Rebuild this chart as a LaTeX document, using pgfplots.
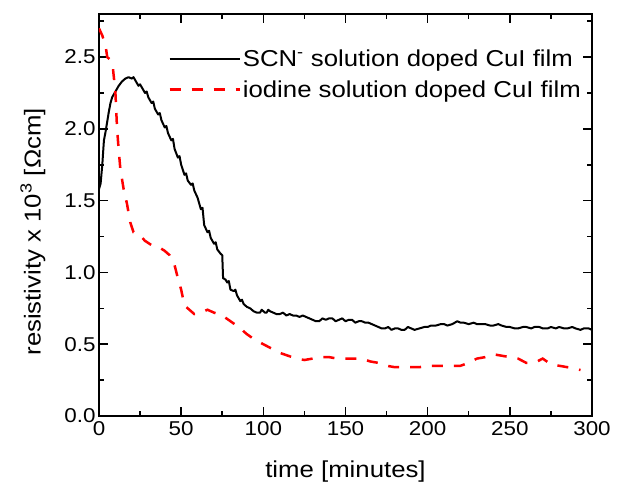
\documentclass[border=0pt]{standalone}
\usepackage{pgfplots}
\pgfplotsset{compat=1.18}
\usepackage{fontspec}
\setmainfont{Liberation Sans}[FakeStretch=1.12]
\pgfplotstableread{
x y
0 1.58
1 1.62
2 1.75
3 1.92
4 1.98
5 2.05
6 2.12
7 2.18
8 2.22
10 2.26
12 2.30
14 2.33
16 2.35
18 2.36
20 2.35
21 2.36
22 2.34
24 2.30
25 2.31
26 2.29
28 2.25
29 2.26
30 2.22
32 2.18
33 2.19
34 2.14
36 2.10
37 2.11
38 2.06
40 2.01
41 2.02
42 1.97
44 1.92
45 1.93
46 1.86
48 1.80
49 1.81
50 1.75
52 1.68
53 1.69
54 1.64
56 1.61
57 1.62
58 1.57
60 1.52
62 1.44
63 1.45
64 1.33
66 1.28
67 1.29
68 1.24
70 1.20
71 1.21
72 1.16
74 1.13
75 1.12
75.5 0.96
77 0.95
78 0.93
79 0.94
80 0.88
82 0.87
83 0.88
84 0.84
86 0.80
87 0.81
88 0.78
90 0.76
92 0.75
93 0.74
94 0.73
96 0.72
98 0.72
99 0.74
100 0.73
101 0.72
102 0.72
103 0.74
104 0.73
106 0.72
108 0.71
110 0.71
112 0.72
114 0.70
116 0.71
118 0.70
120 0.70
122 0.69
124 0.70
126 0.69
128 0.68
130 0.67
132 0.66
134 0.66
136 0.68
138 0.67
140 0.68
142 0.68
144 0.66
146 0.67
148 0.68
150 0.66
152 0.67
154 0.67
156 0.65
158 0.66
160 0.66
162 0.65
164 0.65
166 0.64
168 0.63
170 0.62
172 0.61
174 0.61
176 0.62
178 0.60
180 0.61
182 0.61
184 0.60
186 0.60
188 0.62
190 0.61
192 0.60
195 0.61
198 0.62
200 0.62
202 0.63
205 0.63
208 0.64
210 0.64
212 0.63
215 0.64
218 0.66
220 0.65
222 0.65
225 0.64
228 0.65
230 0.64
233 0.64
235 0.64
238 0.63
240 0.63
243 0.64
245 0.63
248 0.62
250 0.62
253 0.61
255 0.61
258 0.62
260 0.62
263 0.61
265 0.62
268 0.62
270 0.61
273 0.61
275 0.62
278 0.61
280 0.62
283 0.61
285 0.61
288 0.62
290 0.61
293 0.60
295 0.61
298 0.61
300 0.60
}\scn
\pgfplotstableread{
x y
0 2.70
2 2.65
4 2.58
5 2.50
7 2.48
8.5 2.42
10 2.25
11 2.00
12 1.85
13 1.72
15 1.58
17 1.48
19 1.35
21 1.28
24 1.27
28 1.22
32 1.19
36 1.18
40 1.15
43 1.12
46 1.05
48 0.96
50 0.88
52 0.77
55 0.74
58 0.71
62 0.72
66 0.74
70 0.72
75 0.70
80 0.66
85 0.62
90 0.57
95 0.53
100 0.50
105 0.47
110 0.44
115 0.42
120 0.40
125 0.39
130 0.40
135 0.41
140 0.41
145 0.40
150 0.40
155 0.40
160 0.40
165 0.38
170 0.37
175 0.35
180 0.34
185 0.34
190 0.34
195 0.34
200 0.35
205 0.35
210 0.35
215 0.35
220 0.35
225 0.37
230 0.40
235 0.41
240 0.43
245 0.42
250 0.41
255 0.40
260 0.37
265 0.37
270 0.40
275 0.36
280 0.35
285 0.34
290 0.33
293 0.32
}\iod
\begin{document}
\begin{tikzpicture}
\begin{axis}[
  scale only axis,
  width=493pt, height=402pt,
  xmin=0, xmax=300, ymin=0, ymax=2.8,
  xtick={0,50,...,300},
  ytick={0,0.5,...,2.5},
  minor xtick={25,75,...,275},
  minor ytick={0.25,0.75,...,2.75},
  tick align=inside,
  major tick length=9pt,
  minor tick length=5pt,
  every tick/.style={line width=1.5pt, black},
  axis line style={line width=2pt},
  /pgf/number format/assume math mode=true,
  yticklabel style={/pgf/number format/fixed,/pgf/number format/fixed zerofill,/pgf/number format/precision=1},
  scaled y ticks=false,
  ticklabel style={font=\fontsize{20}{24}\selectfont},
  xticklabel style={yshift=-2pt},
  label style={font=\fontsize{23}{27}\selectfont},
  xlabel={time [minutes]},
  ylabel={resistivity x 10\textsuperscript{3} [Ωcm]},
  xlabel style={yshift=-18pt},
  ylabel style={at={(ticklabel cs:0.458)}, yshift=12pt},
  legend style={draw=none, fill=none, at={(1,1)}, anchor=north east,
    xshift=-6pt, yshift=-32pt, font=\fontsize{23}{27}\selectfont,
    row sep=8pt, cells={anchor=west}},
  legend image code/.code={\draw[#1] plot coordinates {(0pt,0pt) (35pt,0pt) (70pt,0pt)};},
]
\addplot[black, line width=2pt, line join=round] table[x=x,y=y] {\scn};
\addlegendentry{SCN\textsuperscript{-} solution doped CuI film}
\addplot[red, line width=2.5pt, dash pattern=on 11pt off 11pt] table[x=x,y=y] {\iod};
\addlegendentry{iodine solution doped CuI film}
\end{axis}
\pgfresetboundingbox
\path (current axis.south west) ++(-99pt,-74pt) rectangle ([shift={(27pt,14pt)}]current axis.north east);
\end{tikzpicture}
\end{document}
